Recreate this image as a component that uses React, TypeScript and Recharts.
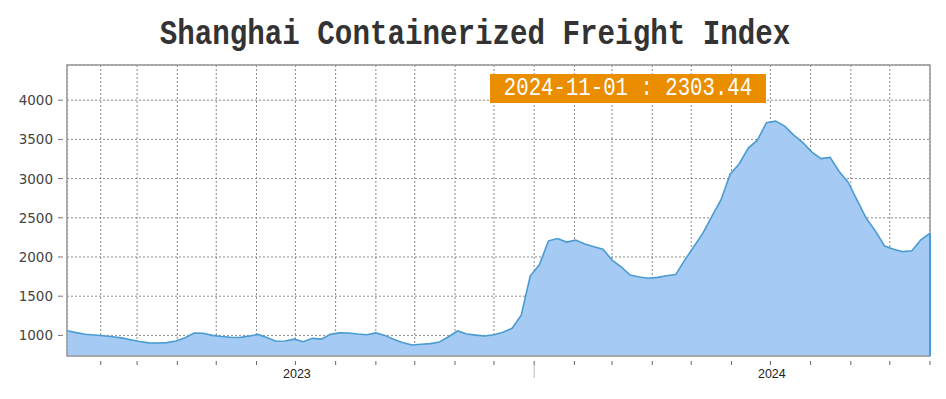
import React from 'react';
import { AreaChart, Area, XAxis, YAxis, CartesianGrid, ReferenceArea, ReferenceLine } from 'recharts';

const dates: string[] = [
  '2023-01-06', '2023-01-13', '2023-01-20', '2023-01-27', '2023-02-03', '2023-02-10', '2023-02-17', '2023-02-24',
  '2023-03-03', '2023-03-10', '2023-03-17', '2023-03-24', '2023-03-31', '2023-04-07', '2023-04-14', '2023-04-21',
  '2023-04-28', '2023-05-05', '2023-05-12', '2023-05-19', '2023-05-26', '2023-06-02', '2023-06-09', '2023-06-16',
  '2023-06-23', '2023-06-30', '2023-07-07', '2023-07-14', '2023-07-21', '2023-07-28', '2023-08-04', '2023-08-11',
  '2023-08-18', '2023-08-25', '2023-09-01', '2023-09-08', '2023-09-15', '2023-09-22', '2023-09-29', '2023-10-06',
  '2023-10-13', '2023-10-20', '2023-10-27', '2023-11-03', '2023-11-10', '2023-11-17', '2023-11-24', '2023-12-01',
  '2023-12-08', '2023-12-15', '2023-12-22', '2023-12-29',
  '2024-01-05', '2024-01-12', '2024-01-19', '2024-01-26', '2024-02-02', '2024-02-09', '2024-02-16', '2024-02-23',
  '2024-03-01', '2024-03-08', '2024-03-15', '2024-03-22', '2024-03-29', '2024-04-05', '2024-04-12', '2024-04-19',
  '2024-04-26', '2024-05-03', '2024-05-10', '2024-05-17', '2024-05-24', '2024-05-31', '2024-06-07', '2024-06-14',
  '2024-06-21', '2024-06-28', '2024-07-05', '2024-07-12', '2024-07-19', '2024-07-26', '2024-08-02', '2024-08-09',
  '2024-08-16', '2024-08-23', '2024-08-30', '2024-09-06', '2024-09-13', '2024-09-20', '2024-09-27', '2024-10-04',
  '2024-10-11', '2024-10-18', '2024-10-25', '2024-11-01',
];

const values: number[] = [
  1060, 1035, 1015, 1005, 995, 982, 968, 944,
  922, 905, 903, 908, 928, 970, 1029, 1028,
  1000, 985, 977, 973, 990, 1012, 972, 925,
  928, 952, 920, 962, 952, 1013, 1032, 1030,
  1017, 1008, 1032, 1000, 948, 905, 878, 886,
  895, 915, 983, 1056, 1018, 1003, 992, 1008,
  1040, 1090, 1257, 1760,
  1900, 2206, 2235, 2190, 2215, 2165, 2130, 2100,
  1960, 1875, 1770, 1745, 1728, 1740, 1760, 1775,
  1960, 2130, 2305, 2520, 2730, 3055, 3190, 3390,
  3490, 3714, 3733, 3670, 3555, 3460, 3338, 3255,
  3270, 3090, 2950, 2720, 2490, 2330, 2140, 2100,
  2068, 2080, 2220, 2303.44,
];

const yTicks: number[] = [1000, 1500, 2000, 2500, 3000, 3500, 4000];
const yDomain: number[] = [737, 4449];

const monthTicks: string[] = [
  '2023-02-01', '2023-03-01', '2023-04-01', '2023-05-01', '2023-06-01', '2023-07-01', '2023-08-01',
  '2023-09-01', '2023-10-01', '2023-11-01', '2023-12-01', '2024-01-01', '2024-02-01', '2024-03-01',
  '2024-04-01', '2024-05-01', '2024-06-01', '2024-07-01', '2024-08-01', '2024-09-01', '2024-10-01',
  '2024-11-01',
];

const titleText = 'Shanghai Containerized Freight Index';
const lastLabel = '2024-11-01 : 2303.44';

const toT = (s: string) => Date.UTC(+s.slice(0, 4), +s.slice(5, 7) - 1, +s.slice(8, 10));

const data = dates.map((d, i) => ({ t: toT(d), v: values[i] }));
const xTicks = monthTicks.map(toT);
const tStart = toT(dates[0]);
const tEnd = toT(dates[dates.length - 1]);
const lastVal = values[values.length - 1];

const XTick = (props: any) => {
  const { x, y, payload } = props;
  const d = new Date(payload.value);
  const m = d.getUTCMonth();
  return (
    <g>
      <line x1={x} x2={x} y1={y + 5} y2={y + 9} stroke="#666" strokeWidth={1} />
      {m === 0 && <line x1={x} x2={x} y1={y + 9} y2={y + 22} stroke="#bbb" strokeWidth={1} />}
      {m === 6 && (
        <text
          x={x + 1.5}
          y={y + 21.5}
          textAnchor="middle"
          fontFamily="Liberation Sans, Arial, sans-serif"
          fontSize={12.5}
          fill="#222"
        >
          {String(d.getUTCFullYear())}
        </text>
      )}
    </g>
  );
};

const YTick = (props: any) => {
  const { x, y, payload } = props;
  return (
    <g>
      <line x1={x - 9} x2={x - 4} y1={y} y2={y} stroke="#777" strokeWidth={1} />
      <text
        x={x - 14}
        y={y + 5}
        textAnchor="end"
        fontFamily="DejaVu Sans, Verdana, sans-serif"
        fontSize={13.5}
        fill="#444"
      >
        {payload.value}
      </text>
    </g>
  );
};

export default function App() {
  return (
    <div style={{ position: 'absolute', left: 0, top: 0, width: 946, height: 399, background: '#fff' }}>
      <AreaChart
        width={946}
        height={399}
        data={data}
        margin={{ top: 65, right: 16, bottom: 13, left: 0 }}
      >
        <CartesianGrid stroke="#8a8a8a" strokeDasharray="2 2" strokeWidth={1} />
        <XAxis
          dataKey="t"
          type="number"
          domain={[tStart, tEnd]}
          ticks={xTicks}
          allowDataOverflow
          height={30}
          tickSize={0}
          tickMargin={0}
          tickLine={false}
          axisLine={false}
          tick={<XTick />}
          interval={0}
        />
        <YAxis
          type="number"
          domain={yDomain}
          ticks={yTicks}
          allowDataOverflow
          width={67}
          tickSize={0}
          tickMargin={0}
          tickLine={false}
          axisLine={false}
          tick={<YTick />}
          interval={0}
        />
        <Area
          type="linear"
          dataKey="v"
          stroke="#4a9bd1"
          strokeWidth={1.6}
          fill="#a5cbf5"
          fillOpacity={1}
          isAnimationActive={false}
          dot={false}
          activeDot={false}
        />
        <ReferenceLine
          segment={[{ x: tEnd, y: yDomain[0] }, { x: tEnd, y: lastVal }]}
          stroke="#4a9bd1"
          strokeWidth={2}
        />
        <ReferenceArea
          x1={tStart}
          x2={tEnd}
          y1={yDomain[0]}
          y2={yDomain[1]}
          fill="none"
          fillOpacity={0}
          stroke="#999"
          strokeWidth={1.5}
        />
      </AreaChart>
      <div
        style={{
          position: 'absolute',
          left: 2,
          top: 22.3,
          width: 946,
          height: 30,
          lineHeight: '30px',
          textAlign: 'center',
          fontFamily: 'Liberation Mono, monospace',
          fontWeight: 'bold',
          fontSize: 29.2,
          color: '#333',
          transform: 'scaleY(1.17)',
          transformOrigin: '50% 22.7px',
          whiteSpace: 'pre',
        }}
      >
        {titleText}
      </div>
      <div
        style={{
          position: 'absolute',
          left: 490,
          top: 74,
          width: 276,
          height: 29,
          background: '#ea8e00',
          color: '#fff',
          lineHeight: '29px',
          textAlign: 'center',
          fontFamily: 'Liberation Mono, monospace',
          fontSize: 20.7,
          whiteSpace: 'pre',
        }}
      >
        <span style={{ display: 'inline-block', transform: 'scaleY(1.25)' }}>{lastLabel}</span>
      </div>
    </div>
  );
}
